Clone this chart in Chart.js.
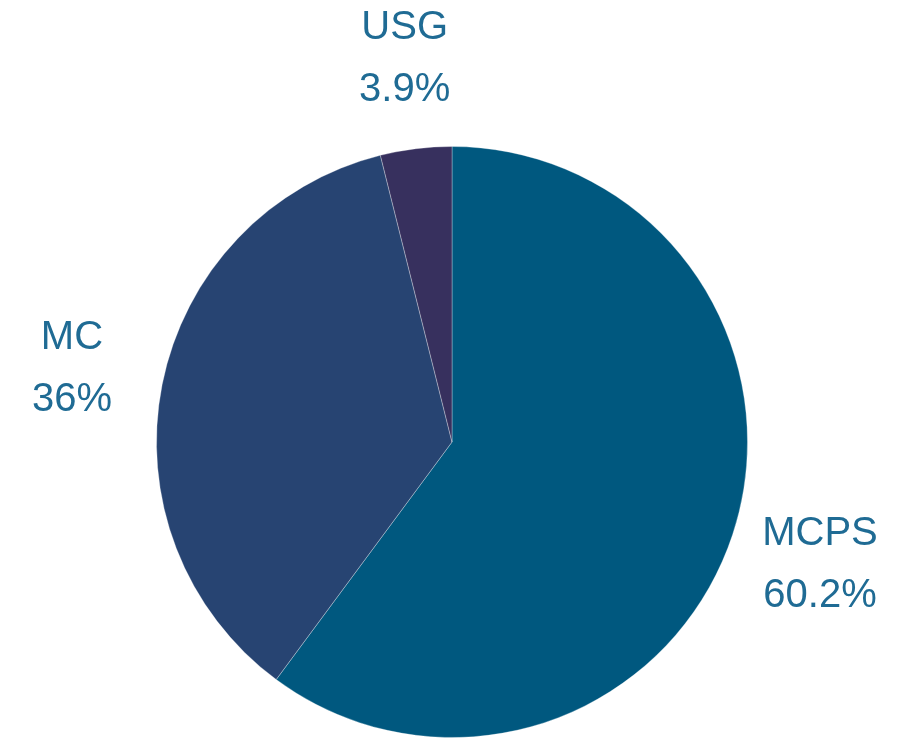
<!DOCTYPE html>
<html>
<head>
<meta charset="utf-8">
<script src="https://cdn.jsdelivr.net/npm/chart.js@4/dist/chart.umd.min.js"></script>
<style>
    html, body { margin: 0; padding: 0; background: #ffffff; }
    #wrap { width: 899px; height: 744px; }
</style>
</head>
<body>
<div id="wrap"><canvas id="grafikPie"></canvas></div>
<script>
const categories = ['MCPS', 'MC', 'USG'];
const shares = [60.2, 36, 3.9];
const shareLabels = ['60.2%', '36%', '3.9%'];
const sliceColors = ['#00587f', '#274472', '#37305e'];

// labels drawn outside each slice, two lines: name + percent
const outsideLabels = {
    id: 'outsideLabels',
    afterDatasetsDraw(chart) {
        const ctx = chart.ctx;
        const meta = chart.getDatasetMeta(0);
        ctx.save();
        ctx.fillStyle = '#1f6b94';
        ctx.font = '40px "Liberation Sans", Arial, sans-serif';
        ctx.textAlign = 'center';
        ctx.textBaseline = 'middle';
        meta.data.forEach((arc, i) => {
            const mid = (arc.startAngle + arc.endAngle) / 2;
            const r = arc.outerRadius + 92;
            const x = arc.x + Math.cos(mid) * r;
            const y = arc.y + Math.sin(mid) * r;
            ctx.fillText(categories[i], x, y - 29);
            ctx.fillText(shareLabels[i], x, y + 33);
        });
        ctx.restore();
    }
};

const grafikPie = document.getElementById('grafikPie').getContext('2d');
new Chart(grafikPie, {
    type: 'pie',
    data: {
        labels: categories,
        datasets: [{
            data: shares,
            backgroundColor: sliceColors,
            borderColor: 'rgba(255, 255, 255, 0.3)',
            borderWidth: 1
        }]
    },
    options: {
        responsive: true,
        maintainAspectRatio: false,
        animation: false,
        layout: {
            padding: { top: 146, bottom: 6, left: 156, right: 151 }
        },
        plugins: {
            legend: { display: false },
            tooltip: { enabled: false }
        }
    },
    plugins: [outsideLabels]
});
</script>
</body>
</html>
